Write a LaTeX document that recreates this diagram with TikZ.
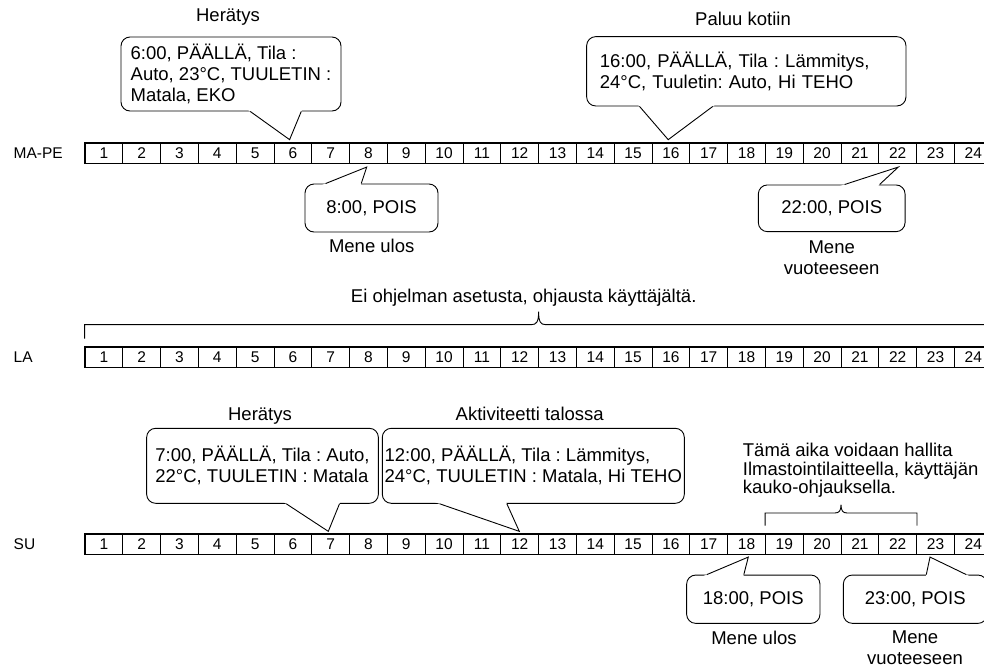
\documentclass[tikz,border=0pt]{standalone}
\usepackage{fontspec}
\setmainfont{Liberation Sans}
\usetikzlibrary{calc}
\frenchspacing

\tikzset{
  cell/.style={draw, line width=0.7pt, minimum width=37.8pt, minimum height=20pt, inner sep=0pt, font=\fontsize{15.5}{17}\selectfont},
  daylabel/.style={anchor=west, inner sep=0pt, font=\fontsize{15.5}{17}\selectfont},
  balloon/.style={draw, line width=0.9pt, rounded corners=9pt, fill=white, align=left, inner sep=0pt, font=\fontsize{18.5}{21}\selectfont},
  caption/.style={inner sep=0pt, align=center, font=\fontsize{18.5}{20.5}\selectfont},
  pointer/.style={line width=0.9pt, line join=miter},
  bracket/.style={line width=0.9pt},
}

\begin{document}
\begin{tikzpicture}[x=1pt, y=-1pt]
  \path[use as bounding box, fill=white] (0,0) rectangle (984,670);

  % viikon rivit
  \node[daylabel] (mapelabel) at (13.5,153.3) {MA-PE};
  \node[daylabel] (lalabel) at (13.5,357) {LA};
  \node[daylabel] (sulabel) at (13.5,544) {SU};
  \foreach \row/\y in {mape/153.3, la/357, su/544}{
    \foreach \h in {1,...,24}
      \node[cell] (\row\h) at ({85+(\h-0.5)*37.8},\y) {\h};
    \draw[line width=1.4pt] (\row1.north west) rectangle (\row24.south east);
  }

  % MA-PE
  \node[caption, anchor=base] (wake1title) at (228,21) {Herätys};
  \node[balloon, minimum width=220pt, minimum height=74pt] (wake1) at (231,74)
    {6:00, PÄÄLLÄ, Tila :\\Auto, 23°C, TUULETIN :\\Matala, EKO};
  \node[caption, anchor=base] (home1title) at (743,25) {Paluu kotiin};
  \node[balloon, text width=293pt, inner xsep=13.15pt, minimum height=69.3pt] (home1) at (746.3,71.3)
    {16:00, PÄÄLLÄ, Tila : Lämmitys,\\24°C, Tuuletin: Auto, Hi TEHO};
  \node[balloon, align=center, minimum width=133pt, minimum height=48pt] (out1) at (371.5,208) {8:00, POIS};
  \node[caption, anchor=base] (out1note) at (371.7,252.3) {Mene ulos};
  \node[balloon, align=center, minimum width=146.7pt, minimum height=46.7pt] (bed1) at (831.7,208.3) {22:00, POIS};
  \node[caption, anchor=north] (bed1note) at (831.7,240.7) {Mene\\vuoteeseen};

  % LA
  \node[caption, anchor=base] (lanote) at (523.7,302.7) {Ei ohjelman asetusta, ohjausta käyttäjältä.};
  \coordinate (lamid) at ($(la1.north west)!0.5!(la24.north east)+(0,-22)$);
  \draw[bracket] ($(la1.north west)+(0,-8)$) |- ($(lamid)+(-7,0)$)
    .. controls ($(lamid)+(-2,0)$) and ($(lamid)+(0,-3)$) .. ($(lamid)+(0,-13)$)
    .. controls ($(lamid)+(0,-3)$) and ($(lamid)+(2,0)$) .. ($(lamid)+(7,0)$)
    -| ($(la24.north east)+(0,-8)$);

  % SU
  \node[caption, anchor=base] (wake2title) at (260,420) {Herätys};
  \node[balloon, minimum width=231.7pt, minimum height=75pt] (wake2) at (262.5,465.8)
    {7:00, PÄÄLLÄ, Tila : Auto,\\22°C, TUULETIN : Matala};
  \node[caption, anchor=base] (home2title) at (529.7,420) {Aktiviteetti talossa};
  \node[balloon, minimum width=302pt, minimum height=75pt] (home2) at (533.3,465.8)
    {12:00, PÄÄLLÄ, Tila : Lämmitys,\\24°C, TUULETIN : Matala, Hi TEHO};
  \node[caption, align=left, anchor=north west, font=\fontsize{18.5}{18.5}\selectfont] (remotenote) at (742.7,443.2)
    {Tämä aika voidaan hallita\\Ilmastointilaitteella, käyttäjän\\kauko-ohjauksella.};
  \coordinate (sumid) at ($(su19.north west)!0.5!(su22.north east)+(0,-20.7)$);
  \draw[bracket] ($(su19.north west)+(0,-8)$) |- ($(sumid)+(-6,0)$)
    .. controls ($(sumid)+(-2,0)$) and ($(sumid)+(0,-2)$) .. ($(sumid)+(0,-8.3)$)
    .. controls ($(sumid)+(0,-2)$) and ($(sumid)+(2,0)$) .. ($(sumid)+(6,0)$)
    -| ($(su22.north east)+(0,-8)$);
  \node[balloon, align=center, minimum width=133.3pt, minimum height=48.3pt] (out2) at (753.3,599.2) {18:00, POIS};
  \node[caption, anchor=base] (out2note) at (754,644) {Mene ulos};
  \node[balloon, align=center, minimum width=143.7pt, minimum height=48.3pt] (bed2) at (915.2,599.2) {23:00, POIS};
  \node[caption, anchor=north] (bed2note) at (915,630.8) {Mene\\vuoteeseen};

  % puhekuplien kärjet
  \foreach \bal/\ba/\da/\db/\cel/\ca/\tx/\ty in {
      wake1/south west/129.7/180.7/mape6/north/-3.3/-3.3,
      home1/south west/53.3/126.6/mape16/north/-2.7/-3.3,
      out1/north west/21/56.7/mape8/south/-1.8/3.4,
      bed1/north west/86.7/121.7/mape22/south/0.6/3.4,
      wake2/south west/140/193.3/su7/north/-2.4/-2.3,
      home2/south west/57.7/125/su12/north/-0.4/-2.3,
      out2/north west/20.6/57.6/su18/south/1.8/2.7,
      bed2/north west/83.4/123.4/su23/south/-5.5/2.7}{
    \coordinate (p1) at ($(\bal.\ba)+(\da,0)$);
    \coordinate (p2) at ($(\bal.\ba)+(\db,0)$);
    \coordinate (tip) at ($(\cel.\ca)+(\tx,\ty)$);
    \fill[white] ($(tip)!1.12!(p1)$) -- (tip) -- ($(tip)!1.12!(p2)$) -- cycle;
    \draw[pointer] (p1) -- (tip) -- (p2);
  }
\end{tikzpicture}
\end{document}
